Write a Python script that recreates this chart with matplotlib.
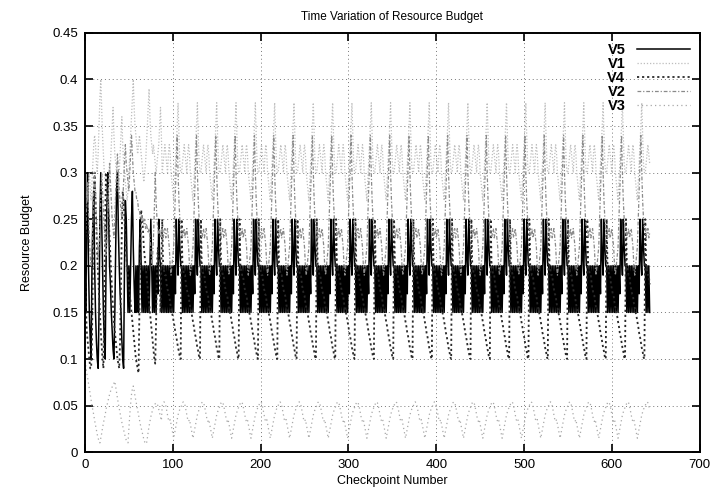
import numpy as np
import matplotlib
matplotlib.use("Agg")
import matplotlib.pyplot as plt

plt.rcParams['font.family'] = ['Liberation Sans', 'DejaVu Sans']

# number of checkpoints logged
n_points = 644

# first ~88 checkpoints: start-up transient
v5_start = [0.2,0.15,0.25,0.3,0.2,0.15,0.12,0.1,0.2,0.25,0.28,0.2,0.15,0.12,0.1,0.09,0.15,0.25,0.3,0.25,0.2,0.15,
            0.12,0.1,0.2,0.27,0.3,0.25,0.2,0.18,0.15,0.13,0.11,0.1,0.15,0.22,0.28,0.3,0.24,0.2,0.17,0.15,0.12,0.1,
            0.09,0.2,0.27,0.25,0.2,0.15,0.2,0.15,0.2,0.25,0.28,0.22,0.18,0.15,0.2,0.15,0.2,0.15,0.22,0.25,0.2,0.15,
            0.2,0.15,0.2,0.15,0.2,0.15,0.2,0.15,0.2,0.25,0.2,0.15,0.2,0.15,0.2,0.15,0.2,0.17,0.25,0.21,0.2,0.15]
v1_start = [0.26,0.27,0.28,0.27,0.29,0.3,0.28,0.27,0.29,0.31,0.33,0.34,0.33,0.31,0.3,0.32,0.35,0.38,0.4,0.37,0.34,0.32,
            0.3,0.29,0.28,0.27,0.26,0.27,0.29,0.31,0.33,0.35,0.37,0.34,0.32,0.31,0.3,0.29,0.28,0.3,0.32,0.34,0.36,0.33,
            0.31,0.3,0.29,0.28,0.27,0.28,0.3,0.32,0.34,0.36,0.38,0.4,0.37,0.35,0.34,0.33,0.32,0.33,0.34,0.33,0.32,0.31,
            0.3,0.29,0.3,0.31,0.33,0.35,0.37,0.39,0.36,0.34,0.33,0.32,0.33,0.32,0.31,0.3,0.31,0.32,0.33,0.35,0.37,0.34]
v4_start = [0.2,0.16,0.13,0.12,0.11,0.1,0.09,0.09,0.12,0.2,0.28,0.3,0.27,0.24,0.21,0.19,0.17,0.15,0.13,0.115,0.1,0.09,
            0.15,0.25,0.3,0.29,0.27,0.25,0.23,0.21,0.19,0.17,0.155,0.14,0.13,0.12,0.11,0.1,0.095,0.09,0.12,0.18,0.24,0.28,
            0.27,0.25,0.23,0.21,0.2,0.19,0.18,0.17,0.16,0.15,0.14,0.13,0.12,0.11,0.1,0.095,0.09,0.085,0.15,0.22,0.26,0.25,
            0.24,0.22,0.21,0.2,0.19,0.18,0.17,0.16,0.15,0.14,0.13,0.12,0.11,0.1,0.095,0.14,0.2,0.22,0.2,0.2,0.15,0.2]
v2_start = [0.22,0.24,0.27,0.29,0.26,0.23,0.21,0.2,0.22,0.25,0.28,0.3,0.28,0.25,0.23,0.21,0.22,0.24,0.27,0.3,0.28,0.26,
            0.24,0.22,0.21,0.23,0.26,0.29,0.31,0.29,0.27,0.25,0.24,0.23,0.25,0.28,0.3,0.32,0.3,0.28,0.27,0.26,0.25,0.27,
            0.29,0.31,0.33,0.31,0.3,0.29,0.28,0.3,0.32,0.34,0.32,0.3,0.29,0.28,0.28,0.27,0.27,0.26,0.26,0.25,0.25,0.255,
            0.25,0.245,0.25,0.24,0.245,0.24,0.235,0.24,0.23,0.22,0.2,0.21,0.23,0.26,0.3,0.27,0.25,0.24,0.235,0.24,0.23,0.235]
v3_start = [0.098,0.092,0.085,0.08,0.074,0.068,0.062,0.056,0.05,0.045,0.04,0.034,0.029,0.024,0.019,0.015,0.012,0.01,
            0.015,0.02,0.026,0.031,0.036,0.04,0.046,0.05,0.054,0.058,0.062,0.065,0.068,0.07,0.072,0.074,0.076,
            0.07,0.064,0.058,0.052,0.047,0.042,0.037,0.032,0.028,0.024,0.02,0.016,0.013,0.011,0.01,
            0.025,0.04,0.052,0.062,0.068,0.071,
            0.066,0.06,0.055,0.05,0.045,0.04,0.035,0.03,0.026,0.022,0.018,0.014,0.011,0.01,0.009,
            0.015,0.022,0.028,0.033,0.038,0.042,0.045,0.048,0.05,0.052,0.053,0.052,0.05,0.046,0.042,0.038,0.034]

# one steady-state cycle (~22 checkpoints), repeated for the rest of the run
v5_cycle = [0.2,0.15,0.2,0.15,0.2,0.15,0.2,0.15,0.2,0.15,0.2,0.15,0.2,0.15,0.2,0.17,0.25,0.21,0.19,0.25,0.22,0.2]
v1_cycle = [0.3,0.31,0.32,0.33,0.32,0.31,0.3,0.32,0.33,0.32,0.3,0.29,0.28,0.27,0.29,0.31,0.33,0.35,0.375,0.34,0.31,0.3]
v4_cycle = [0.25,0.2,0.195,0.19,0.19,0.18,0.175,0.17,0.168,0.16,0.155,0.15,0.146,0.14,0.135,0.128,0.124,0.118,0.112,0.108,0.102,0.1]
v2_cycle = [0.24,0.23,0.235,0.24,0.23,0.235,0.24,0.23,0.22,0.2,0.19,0.2,0.21,0.22,0.25,0.28,0.31,0.34,0.3,0.27,0.25,0.24]
v3_cycle = [0.05,0.053,0.054,0.053,0.05,0.045,0.04,0.035,0.033,0.035,0.03,0.025,0.02,0.015,0.02,0.025,0.03,0.035,0.04,0.043,0.046,0.048]


def build(start, cycle):
    reps = (n_points - len(start)) // len(cycle) + 1
    vals = np.array(start + cycle * reps)
    return vals[:n_points]


x = np.arange(n_points)
series = [
    ('V5', build(v5_start, v5_cycle), dict(color='black', lw=1.1, ls='-')),
    ('V1', build(v1_start, v1_cycle), dict(color='#bdbdbd', lw=0.9, ls=(0, (1, 1.5)))),
    ('V4', build(v4_start, v4_cycle), dict(color='#2a2a2a', lw=1.3, ls=(0, (1.2, 1.6)))),
    ('V2', build(v2_start, v2_cycle), dict(color='#8a8a8a', lw=0.9, ls=(0, (3, 1.5, 1, 1.5)))),
    ('V3', build(v3_start, v3_cycle), dict(color='#a8a8a8', lw=0.9, ls=(0, (1, 2.5)))),
]

fig = plt.figure(figsize=(7.14, 4.98), dpi=100)
ax = fig.add_axes([0.119, 0.092, 0.861, 0.842])

for name, vals, style in series:
    ax.plot(x, vals, label=name, **style)

ax.set_xlim(0, 700)
ax.set_ylim(0, 0.45)
ax.set_xticks(np.arange(0, 701, 100))
ax.set_yticks(np.arange(0, 0.451, 0.05))
ax.set_yticklabels(['0', '0.05', '0.1', '0.15', '0.2', '0.25', '0.3', '0.35', '0.4', '0.45'])
ax.grid(True, color='#777777', ls=(0, (1, 3)), lw=0.7)
ax.tick_params(direction='in', top=True, right=True, length=6, width=1.2, labelsize=9.5, pad=5)
for sp in ax.spines.values():
    sp.set_linewidth(1.4)

ax.set_title('Time Variation of Resource Budget', fontsize=8.5, pad=9)
ax.set_xlabel('Checkpoint Number', fontsize=9, labelpad=3)
ax.set_ylabel('Resource Budget', fontsize=9, labelpad=14)

leg = ax.legend(loc='upper right', frameon=False, markerfirst=False, fontsize=10.5,
                handlelength=3.6, labelspacing=0.0, borderaxespad=0.3, handletextpad=0.8)
for t in leg.get_texts():
    t.set_fontweight('bold')

fig.savefig('out.png', dpi=100)
